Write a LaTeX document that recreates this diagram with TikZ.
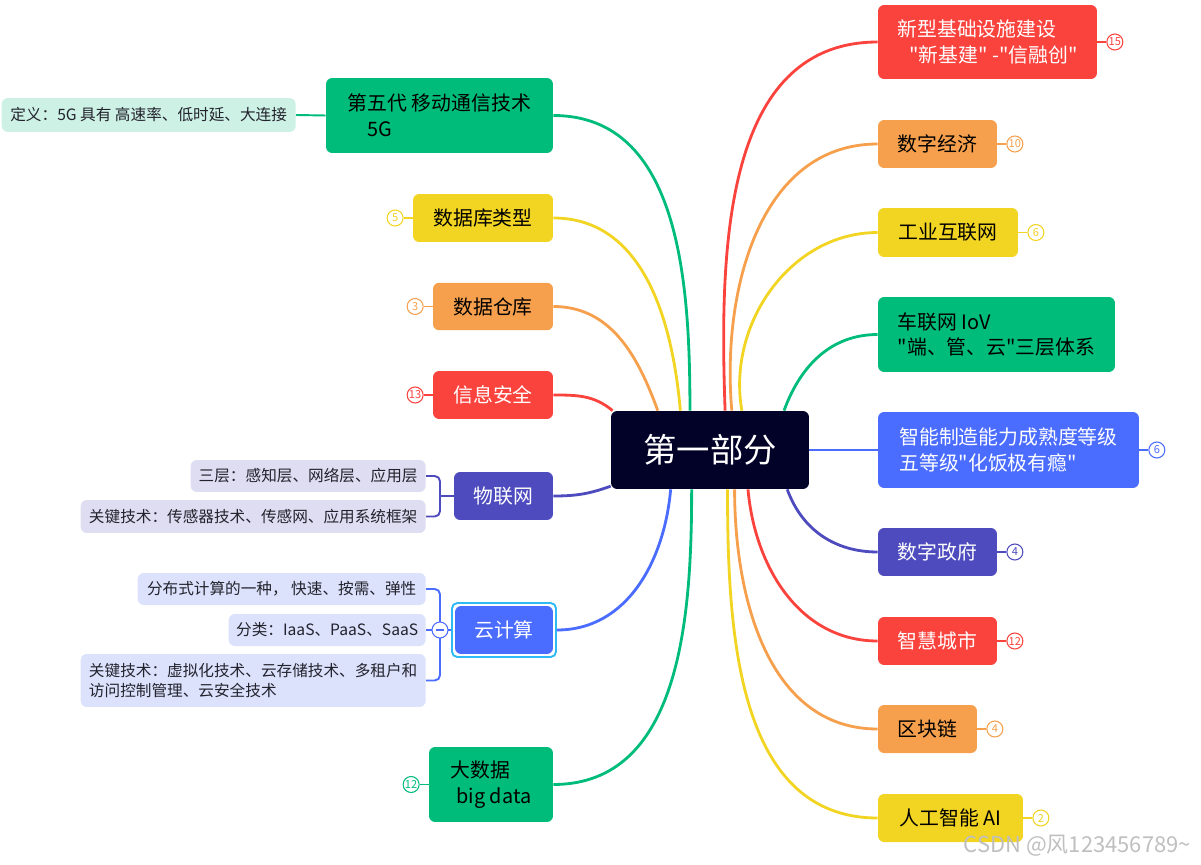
\documentclass[tikz,border=0pt]{standalone}
\usepackage{fontspec}
\newfontfamily\cjk{Noto Sans CJK SC}
\usetikzlibrary{positioning,fit}
\definecolor{hubnavy}{RGB}{2,2,40}
\definecolor{mmgreen}{RGB}{0,188,123}
\definecolor{mmyellow}{RGB}{242,212,34}
\definecolor{mmorange}{RGB}{246,160,77}
\definecolor{mmred}{RGB}{251,67,62}
\definecolor{mmpurple}{RGB}{78,75,190}
\definecolor{mmblue}{RGB}{74,108,255}
\definecolor{leafgreen}{RGB}{205,242,229}
\definecolor{leafpurple}{RGB}{222,221,242}
\definecolor{leafblue}{RGB}{220,226,252}
\definecolor{selcyan}{RGB}{47,185,245}
\definecolor{leaftext}{RGB}{35,35,45}

\begin{document}
\begin{tikzpicture}[x=0.02cm, y=-0.02cm,
  topic/.style={rounded corners=3.5pt, inner sep=0pt, align=left, font=\cjk\fontsize{11.3}{14.7}\selectfont},
  leaf/.style={fill=#1, rounded corners=3.5pt, inner sep=0pt, align=left, text=leaftext, font=\cjk\fontsize{8.9}{11.9}\selectfont},
  badge/.style={circle, draw=#1, fill=white, text=#1, line width=0.6pt, minimum size=0.32cm, inner sep=0pt, font=\cjk\fontsize{6.3}{6.5}\selectfont},
  branch/.style={draw=#1, line width=1.6pt},
  bracket/.style={draw=#1, line width=1.1pt, rounded corners=3pt}]
  \useasboundingbox (0,0) rectangle (1201,865);

  \node[topic, fill=hubnavy, text=white, minimum width=3.96cm, minimum height=1.56cm, font=\cjk\fontsize{19}{22}\selectfont] (hub) at (710,450) {第一部分};

  % left side
  \node[topic, fill=mmgreen, minimum width=4.54cm, minimum height=1.5cm] (fiveg) at (439.5,115.5) {第五代 移动通信技术\\\hspace*{1em}5G};
  \node[leaf=leafgreen, anchor=east, minimum width=5.88cm, minimum height=0.68cm] (fiveg-def) at (296,115) {定义：5G 具有 高速率、低时延、大连接};
  \node[topic, fill=mmyellow, minimum width=2.8cm, minimum height=0.96cm] (dbtype) at (483,218) {数据库类型};
  \node[badge=mmyellow, left=0.18cm of dbtype] (dbtype-n) {5};
  \node[topic, fill=mmorange, minimum width=2.4cm, minimum height=0.95cm] (store) at (493,306.5) {数据仓库};
  \node[badge=mmorange, left=0.18cm of store] (store-n) {3};
  \node[topic, fill=mmred, text=white, minimum width=2.4cm, minimum height=0.96cm] (infosec) at (493,395) {信息安全};
  \node[badge=mmred, left=0.18cm of infosec] (infosec-n) {13};
  \node[topic, fill=mmpurple, text=white, minimum width=1.98cm, minimum height=0.96cm] (iot) at (503.5,496) {物联网};
  \node[leaf=leafpurple, anchor=east, minimum width=4.7cm, minimum height=0.64cm] (iot-a) at (426,476) {三层：感知层、网络层、应用层};
  \node[leaf=leafpurple, anchor=east, minimum width=6.9cm, minimum height=0.66cm] (iot-b) at (426,516.5) {关键技术：传感器技术、传感网、应用系统框架};
  \coordinate (iot-j) at (440,496);
  \node[topic, fill=mmblue, text=white, minimum width=1.96cm, minimum height=0.96cm] (cloud) at (504,630) {云计算};
  \node[fit=(cloud), draw=selcyan, line width=1.1pt, rounded corners=3pt, inner sep=1.5pt] (cloud-sel) {};
  \node[leaf=leafblue, anchor=east, minimum width=5.76cm, minimum height=0.64cm] (cloud-a) at (426,589) {分布式计算的一种， 快速、按需、弹性};
  \node[leaf=leafblue, anchor=east, minimum width=3.94cm, minimum height=0.64cm] (cloud-b) at (426,630) {分类：IaaS、PaaS、SaaS};
  \node[leaf=leafblue, anchor=east, minimum width=6.9cm, minimum height=1.06cm] (cloud-c) at (426,680.5) {关键技术：虚拟化技术、云存储技术、多租户和\\访问控制管理、云安全技术};
  \coordinate (cloud-j) at (440,630);
  \node[topic, fill=mmgreen, minimum width=2.48cm, minimum height=1.5cm] (bigdata) at (491,784.5) {大数据\\\hspace*{0.3em}big data};
  \node[badge=mmgreen, left=0.18cm of bigdata] (bigdata-n) {12};

  % right side
  \node[topic, fill=mmred, text=white, minimum width=4.38cm, minimum height=1.48cm] (infra) at (987.5,42) {新型基础设施建设\\\hspace*{0.6em}"新基建" -"信融创"};
  \node[badge=mmred, right=0.18cm of infra] (infra-n) {15};
  \node[topic, fill=mmorange, minimum width=2.38cm, minimum height=0.96cm] (econ) at (937.5,144) {数字经济};
  \node[badge=mmorange, right=0.18cm of econ] (econ-n) {10};
  \node[topic, fill=mmyellow, minimum width=2.8cm, minimum height=0.98cm] (indnet) at (948,232.5) {工业互联网};
  \node[badge=mmyellow, right=0.18cm of indnet] (indnet-n) {6};
  \node[topic, fill=mmgreen, minimum width=4.74cm, minimum height=1.5cm] (iov) at (996.5,334.5) {车联网 IoV\\"端、管、云"三层体系};
  \node[topic, fill=mmblue, text=white, minimum width=5.22cm, minimum height=1.52cm] (smart) at (1008.5,450) {智能制造能力成熟度等级\\五等级"化饭极有瘾"};
  \node[badge=mmblue, right=0.18cm of smart] (smart-n) {6};
  \node[topic, fill=mmpurple, text=white, minimum width=2.38cm, minimum height=0.96cm] (gov) at (937.5,552) {数字政府};
  \node[badge=mmpurple, right=0.18cm of gov] (gov-n) {4};
  \node[topic, fill=mmred, text=white, minimum width=2.38cm, minimum height=0.96cm] (city) at (937.5,641) {智慧城市};
  \node[badge=mmred, right=0.18cm of city] (city-n) {12};
  \node[topic, fill=mmorange, minimum width=1.98cm, minimum height=0.96cm] (chain) at (927.5,729) {区块链};
  \node[badge=mmorange, right=0.18cm of chain] (chain-n) {4};
  \node[topic, fill=mmyellow, minimum width=2.9cm, minimum height=0.96cm] (ai) at (950.5,818) {人工智能 AI};
  \node[badge=mmyellow, right=0.18cm of ai] (ai-n) {2};

  \node[anchor=east, text=black!25, font=\cjk\fontsize{12.5}{14}\selectfont] (mark) at (1197,846) {CSDN @风123456789\textasciitilde};

  % branches to the hub
  \draw[branch=mmgreen] (fiveg.east) to[out=0,in=90] (hub.117);
  \draw[branch=mmyellow] (dbtype.east) to[out=0,in=95] (hub.127);
  \draw[branch=mmorange] (store.east) to[out=0,in=110] (hub.143);
  \draw[branch=mmred] (infosec.east) to[out=0,in=140] (hub.158);
  \draw[branch=mmpurple] (iot.east) to[out=0,in=200] (hub.200);
  \draw[branch=mmblue] (cloud-sel.east) to[out=0,in=-95] (hub.225);
  \draw[branch=mmgreen] (bigdata.east) to[out=0,in=-90] (hub.245);
  \draw[branch=mmred] (hub.69) to[out=92,in=180] (infra.west);
  \draw[branch=mmorange] (hub.61) to[out=95,in=180] (econ.west);
  \draw[branch=mmyellow] (hub.51) to[out=100,in=180] (indnet.west);
  \draw[branch=mmgreen] (hub.28) to[out=70,in=180] (iov.west);
  \draw[branch=mmblue] (hub.east) -- (smart.west);
  \draw[branch=mmpurple] (hub.-27) to[out=-70,in=180] (gov.west);
  \draw[branch=mmred] (hub.-46.5) to[out=-85,in=180] (city.west);
  \draw[branch=mmorange] (hub.-58) to[out=-90,in=180] (chain.west);
  \draw[branch=mmyellow] (hub.-66.5) to[out=-90,in=180] (ai.west);

  % leaves and counters
  \draw[branch=mmgreen, line width=1.1pt] (fiveg-def.east) -- (fiveg.west);
  \draw[bracket=mmpurple] (iot-a.east) -| (iot-j) |- (iot-b.east);
  \draw[bracket=mmpurple] (iot-j) -- (iot.west);
  \draw[bracket=mmblue] (cloud-a.east) -| (cloud-j) |- (cloud-c.east);
  \draw[bracket=mmblue] (cloud-b.east) -- (cloud-sel.west);
  \node[circle, draw=mmblue, fill=white, line width=0.6pt, minimum size=0.32cm, inner sep=0pt] (cloud-fold) at (cloud-j) {};
  \draw[mmblue, line width=0.6pt] ([xshift=-2.5pt]cloud-fold.center) -- ([xshift=2.5pt]cloud-fold.center);
  \draw[mmyellow, line width=1.1pt] (dbtype-n) -- (dbtype);
  \draw[mmorange, line width=1.1pt] (store-n) -- (store);
  \draw[mmred, line width=1.1pt] (infosec-n) -- (infosec);
  \draw[mmgreen, line width=1.1pt] (bigdata-n) -- (bigdata);
  \draw[mmred, line width=1.1pt] (infra) -- (infra-n);
  \draw[mmorange, line width=1.1pt] (econ) -- (econ-n);
  \draw[mmyellow, line width=1.1pt] (indnet) -- (indnet-n);
  \draw[mmblue, line width=1.1pt] (smart) -- (smart-n);
  \draw[mmpurple, line width=1.1pt] (gov) -- (gov-n);
  \draw[mmred, line width=1.1pt] (city) -- (city-n);
  \draw[mmorange, line width=1.1pt] (chain) -- (chain-n);
  \draw[mmyellow, line width=1.1pt] (ai) -- (ai-n);
\end{tikzpicture}
\end{document}
